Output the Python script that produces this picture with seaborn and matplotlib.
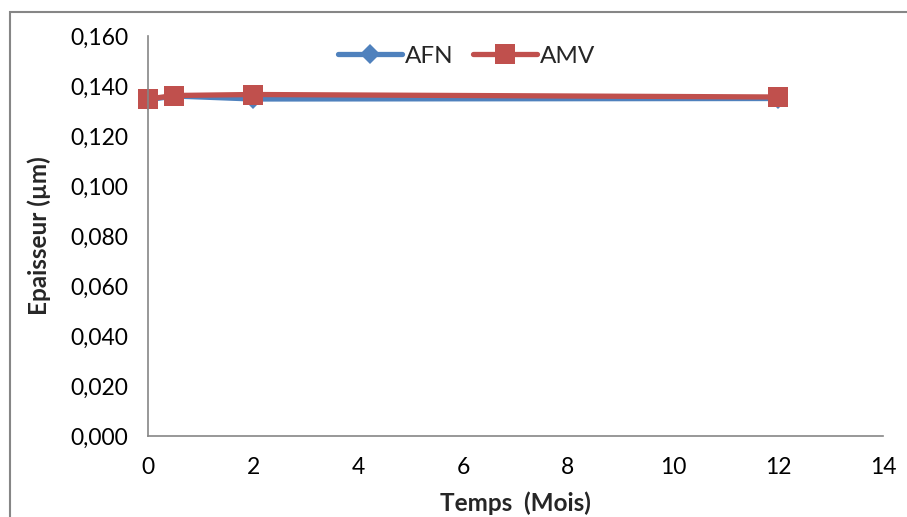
import numpy as np
import pandas as pd
import matplotlib
matplotlib.use("Agg")
import matplotlib.pyplot as plt
import seaborn as sns
from matplotlib.patches import Rectangle

# temps en mois et épaisseur (µm)
mois = [0, 0.5, 2, 12]
afn = [0.1345, 0.1360, 0.1348, 0.1350]
amv = [0.1348, 0.1362, 0.1366, 0.1356]

sns.set_style("white")
plt.rcParams['font.family'] = ['Lato', 'DejaVu Sans']

fig = plt.figure(figsize=(9.07, 5.17), dpi=100)
ax = fig.add_axes([148 / 907, 81 / 517, 735 / 907, 400 / 517])

# cadre extérieur du graphique
fig.patches.append(Rectangle((10 / 907, -0.05), 1.2, (517 - 12) / 517 + 0.05,
                             transform=fig.transFigure, fill=False,
                             edgecolor='#868686', linewidth=1.5))

df_afn = pd.DataFrame({'Temps': mois, 'Epaisseur': afn})
df_amv = pd.DataFrame({'Temps': mois, 'Epaisseur': amv})

sns.lineplot(data=df_afn, x='Temps', y='Epaisseur', ax=ax, color='#4F81BD',
             linewidth=3.8, marker='D', markersize=10, markeredgewidth=0,
             label='AFN', sort=False, clip_on=False)
sns.lineplot(data=df_amv, x='Temps', y='Epaisseur', ax=ax, color='#C0504D',
             linewidth=3.8, marker='s', markersize=14, markeredgewidth=0,
             label='AMV', sort=False, clip_on=False)

ax.set_xlim(0, 14)
ax.set_ylim(0, 0.16)
ax.set_xticks(np.arange(0, 15, 2))
ax.set_yticks(np.arange(0, 0.161, 0.02))
ax.set_yticklabels([f"{v:.3f}".replace('.', ',') for v in np.arange(0, 0.161, 0.02)])

for s in ['top', 'right']:
    ax.spines[s].set_visible(False)
for s in ['left', 'bottom']:
    ax.spines[s].set_color('#868686')
    ax.spines[s].set_linewidth(1.2)

ax.tick_params(axis='both', which='major', direction='out', length=6, width=1.2,
               color='#868686', labelsize=16.5, labelcolor='black')
ax.tick_params(axis='x', pad=9)
ax.tick_params(axis='y', pad=8)

ax.set_xlabel('Temps  (Mois)', fontsize=17.5, fontweight='bold', labelpad=10)
ax.set_ylabel('Epaisseur (µm)', fontsize=17.5, fontweight='bold', labelpad=14)

ax.legend(loc='upper center', bbox_to_anchor=(0.434, 1.03), ncol=2, frameon=False,
          fontsize=17.5, handlelength=2.6, handletextpad=0.15, columnspacing=0.8)

fig.savefig('out.png', dpi=100)
